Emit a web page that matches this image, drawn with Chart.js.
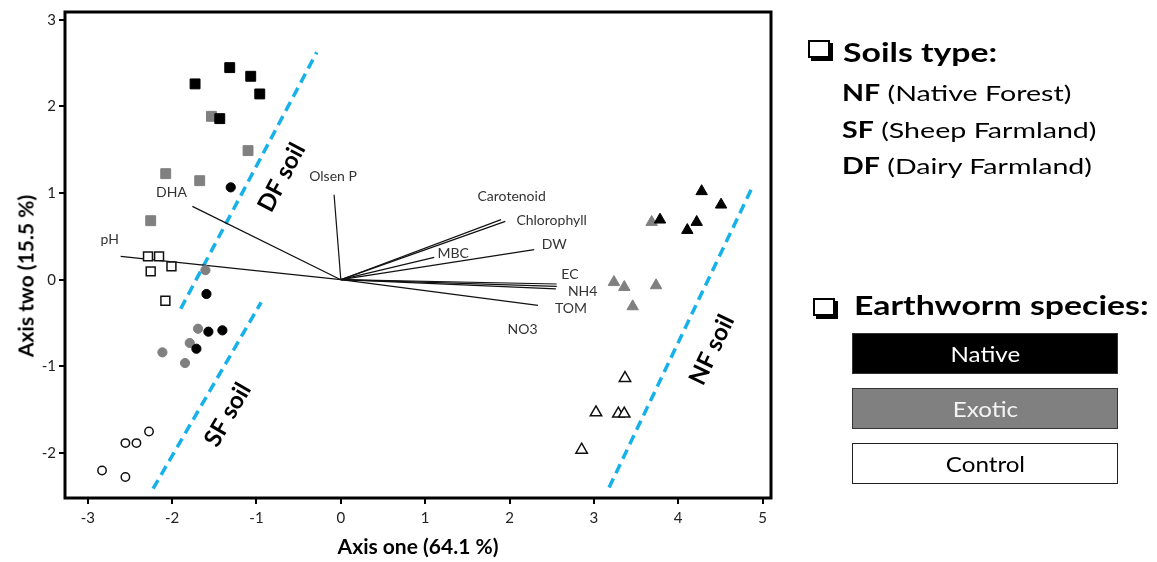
<!DOCTYPE html>
<html>
<head>
<meta charset="utf-8">
<script src="https://cdn.jsdelivr.net/npm/chart.js@4.4.1/dist/chart.umd.min.js"></script>
<style>
  body { margin: 0; background: #fff; font-family: Lato, sans-serif; }
  #wrap { position: relative; width: 1157px; height: 562px; }
  #wrap canvas { position: absolute; left: 0; top: 0; }
  .txt { position: absolute; white-space: nowrap; line-height: 1; color: #000; transform-origin: 0 0; transform: scaleX(1.3); }
  .chk { position: absolute; width: 18px; height: 14px; border: 2px solid #000; box-shadow: 3px 3px 0 #000; background: #fff; }
  .box { position: absolute; left: 852px; width: 264px; height: 39px; border: 1px solid #333; display: flex; align-items: center; justify-content: center; font-size: 21px; }
  .box span { display: inline-block; transform: scaleX(1.15); }
  #ytitle { position: absolute; left: 25px; top: 276px; transform: translate(-50%, -50%) rotate(-90deg); font-weight: 700; font-size: 21px; white-space: nowrap; }
</style>
</head>
<body>
<div id="wrap">
  <canvas id="ordination"></canvas>
  <div id="ytitle">Axis two (15.5 %)</div>

  <div class="chk" style="left:808px;top:40px"></div>
  <div class="txt" style="left:843px;top:39px;font-size:26px;font-weight:700">Soils type:</div>
  <div class="txt" style="left:842px;top:82px;font-size:22px"><b>NF</b> (Native Forest)</div>
  <div class="txt" style="left:842px;top:119px;font-size:22px"><b>SF</b> (Sheep Farmland)</div>
  <div class="txt" style="left:842px;top:155px;font-size:22px"><b>DF</b> (Dairy Farmland)</div>

  <div class="chk" style="left:813px;top:298px"></div>
  <div class="txt" style="left:854px;top:292px;font-size:26px;font-weight:700">Earthworm species:</div>
  <div class="box" style="top:333px;background:#000;color:#fff"><span>Native</span></div>
  <div class="box" style="top:388px;background:#808080;color:#f4f4f4"><span>Exotic</span></div>
  <div class="box" style="top:443px;background:#fff;color:#000;border-color:#222"><span>Control</span></div>
</div>
<script>
// axis ticks
const xTicks = [-3, -2, -1, 0, 1, 2, 3, 4, 5];
const yTicks = [-2, -1, 0, 1, 2, 3];

// DF soil (squares)
const nativeDFx = [-1.728, -1.317, -1.068, -0.961, -1.435];
const nativeDFy = [2.26, 2.448, 2.348, 2.144, 1.859];
const exoticDFx = [-1.534, -1.10, -2.076, -1.673, -2.254];
const exoticDFy = [1.886, 1.49, 1.224, 1.143, 0.681];
const controlDFx = [-2.286, -2.155, -2.254, -2.008, -2.08];
const controlDFy = [0.269, 0.269, 0.096, 0.154, -0.243];

// SF soil (circles)
const nativeSFx = [-1.305, -1.593, -1.57, -1.404, -1.712];
const nativeSFy = [1.066, -0.165, -0.60, -0.585, -0.797];
const exoticSFx = [-1.605, -1.693, -1.791, -2.115, -1.847];
const exoticSFy = [0.11, -0.566, -0.731, -0.839, -0.962];
const controlSFx = [-2.274, -2.554, -2.423, -2.831, -2.554];
const controlSFy = [-1.752, -1.886, -1.886, -2.202, -2.278];

// NF soil (triangles)
const nativeNFx = [4.278, 4.508, 3.784, 4.219, 4.108];
const nativeNFy = [1.02, 0.865, 0.692, 0.665, 0.572];
const exoticNFx = [3.685, 3.238, 3.361, 3.737, 3.46];
const exoticNFy = [0.665, -0.028, -0.086, -0.066, -0.309];
const controlNFx = [3.369, 3.025, 3.29, 3.36, 2.855];
const controlNFy = [-1.136, -1.533, -1.548, -1.548, -1.964];

// environmental vectors
const vecNames = ['Olsen P', 'DHA', 'pH', 'Carotenoid', 'Chlorophyll', 'MBC', 'DW', 'EC', 'NH4', 'NO3', 'TOM'];
const vecX = [-0.08, -1.76, -2.61, 1.90, 1.95, 1.107, 2.293, 2.558, 2.56, 2.55, 2.337];
const vecY = [0.98, 0.846, 0.269, 0.693, 0.673, 0.257, 0.346, -0.05, -0.077, -0.107, -0.297];
const vecLabX = [-0.092, -2.008, -2.74, 2.025, 2.499, 1.332, 2.53, 2.716, 2.867, 2.155, 2.728];
const vecLabY = [1.186, 1.001, 0.462, 0.962, 0.681, 0.297, 0.404, 0.058, -0.135, -0.577, -0.338];

// soil separation lines
const soilNames = ['DF soil', 'SF soil', 'NF soil'];
const soilLineX = [[-1.898, -0.285], [-2.226, -0.945], [3.18, 4.864]];
const soilLineY = [[-0.335, 2.625], [-2.413, -0.262], [-2.40, 1.039]];
const soilLabX = [-0.70, -1.34, 4.40];
const soilLabY = [1.18, -1.56, -0.81];

const pts = (xs, ys) => xs.map((x, i) => ({x, y: ys[i]}));

const marker = (label, xs, ys, style, fill, r, open) => ({
  label,
  data: pts(xs, ys),
  pointStyle: style,
  pointRadius: r,
  backgroundColor: open ? '#fff' : fill,
  borderColor: open ? '#111' : fill,
  borderWidth: open ? 1.5 : 1
});

const vectors = vecNames.map((n, i) => ({
  label: n,
  data: [{x: 0, y: 0}, {x: vecX[i], y: vecY[i]}],
  showLine: true,
  pointRadius: 0,
  borderColor: '#111',
  borderWidth: 1.2
}));

const soilLines = soilNames.map((n, i) => ({
  label: n,
  data: pts(soilLineX[i], soilLineY[i]),
  showLine: true,
  pointRadius: 0,
  borderColor: '#17b1ea',
  borderWidth: 3.5,
  borderDash: [10, 6]
}));

const black = '#000';
const grey = '#808080';

const datasets = [
  marker('Native DF', nativeDFx, nativeDFy, 'rect', black, 7),
  marker('Native SF', nativeSFx, nativeSFy, 'circle', black, 4.6),
  marker('Native NF', nativeNFx, nativeNFy, 'triangle', black, 6.6),
  marker('Exotic DF', exoticDFx, exoticDFy, 'rect', grey, 7),
  marker('Exotic SF', exoticSFx, exoticSFy, 'circle', grey, 4.6),
  marker('Exotic NF', exoticNFx, exoticNFy, 'triangle', grey, 6.6),
  marker('Control DF', controlDFx, controlDFy, 'rect', null, 6.3, true),
  marker('Control SF', controlSFx, controlSFy, 'circle', null, 4.2, true),
  marker('Control NF', controlNFx, controlNFy, 'triangle', null, 6.6, true),
  ...vectors,
  ...soilLines
];

const plotText = {
  id: 'plotText',
  afterDatasetsDraw(chart) {
    const {ctx, chartArea: a, scales: {x, y}} = chart;
    ctx.save();
    ctx.lineWidth = 3;
    ctx.strokeStyle = '#000';
    ctx.strokeRect(a.left, a.top, a.right - a.left, a.bottom - a.top);

    ctx.textAlign = 'center';
    ctx.textBaseline = 'middle';
    ctx.fillStyle = '#333';
    ctx.font = '14px Lato';
    vecNames.forEach((n, i) => ctx.fillText(n, x.getPixelForValue(vecLabX[i]), y.getPixelForValue(vecLabY[i])));

    ctx.fillStyle = '#000';
    ctx.font = 'bold 24px Lato';
    soilNames.forEach((n, i) => {
      const lx = soilLineX[i], ly = soilLineY[i];
      const ang = Math.atan2(y.getPixelForValue(ly[1]) - y.getPixelForValue(ly[0]),
                             x.getPixelForValue(lx[1]) - x.getPixelForValue(lx[0]));
      ctx.save();
      ctx.translate(x.getPixelForValue(soilLabX[i]), y.getPixelForValue(soilLabY[i]));
      ctx.rotate(ang);
      ctx.fillText(n, 0, 0);
      ctx.restore();
    });
    ctx.restore();
  }
};

const tickGrid = {drawOnChartArea: false, drawTicks: true, tickLength: 6, lineWidth: 2, color: '#000'};

Chart.defaults.font.family = 'Lato';

new Chart(document.getElementById('ordination'), {
  type: 'scatter',
  data: {datasets},
  options: {
    responsive: true,
    maintainAspectRatio: false,
    animation: false,
    events: [],
    layout: {padding: {left: 0, top: 12, right: 386, bottom: 0}},
    plugins: {legend: {display: false}, tooltip: {enabled: false}},
    scales: {
      x: {
        type: 'linear',
        min: -3.27,
        max: 5.1,
        afterBuildTicks: s => { s.ticks = xTicks.map(v => ({value: v})); },
        afterFit: s => { s.height = 64; },
        grid: tickGrid,
        border: {display: false},
        ticks: {font: {size: 15}, color: '#222', padding: 5, maxRotation: 0},
        title: {display: true, text: 'Axis one (64.1 %)', color: '#000', font: {size: 21, weight: 'bold'}, padding: {top: 0, bottom: 2}}
      },
      y: {
        type: 'linear',
        min: -2.52,
        max: 3.09,
        afterBuildTicks: s => { s.ticks = yTicks.map(v => ({value: v})); },
        afterFit: s => { s.width = 65; },
        grid: tickGrid,
        border: {display: false},
        ticks: {font: {size: 15}, color: '#222', padding: 3}
      }
    }
  },
  plugins: [plotText]
});
</script>
</body>
</html>
